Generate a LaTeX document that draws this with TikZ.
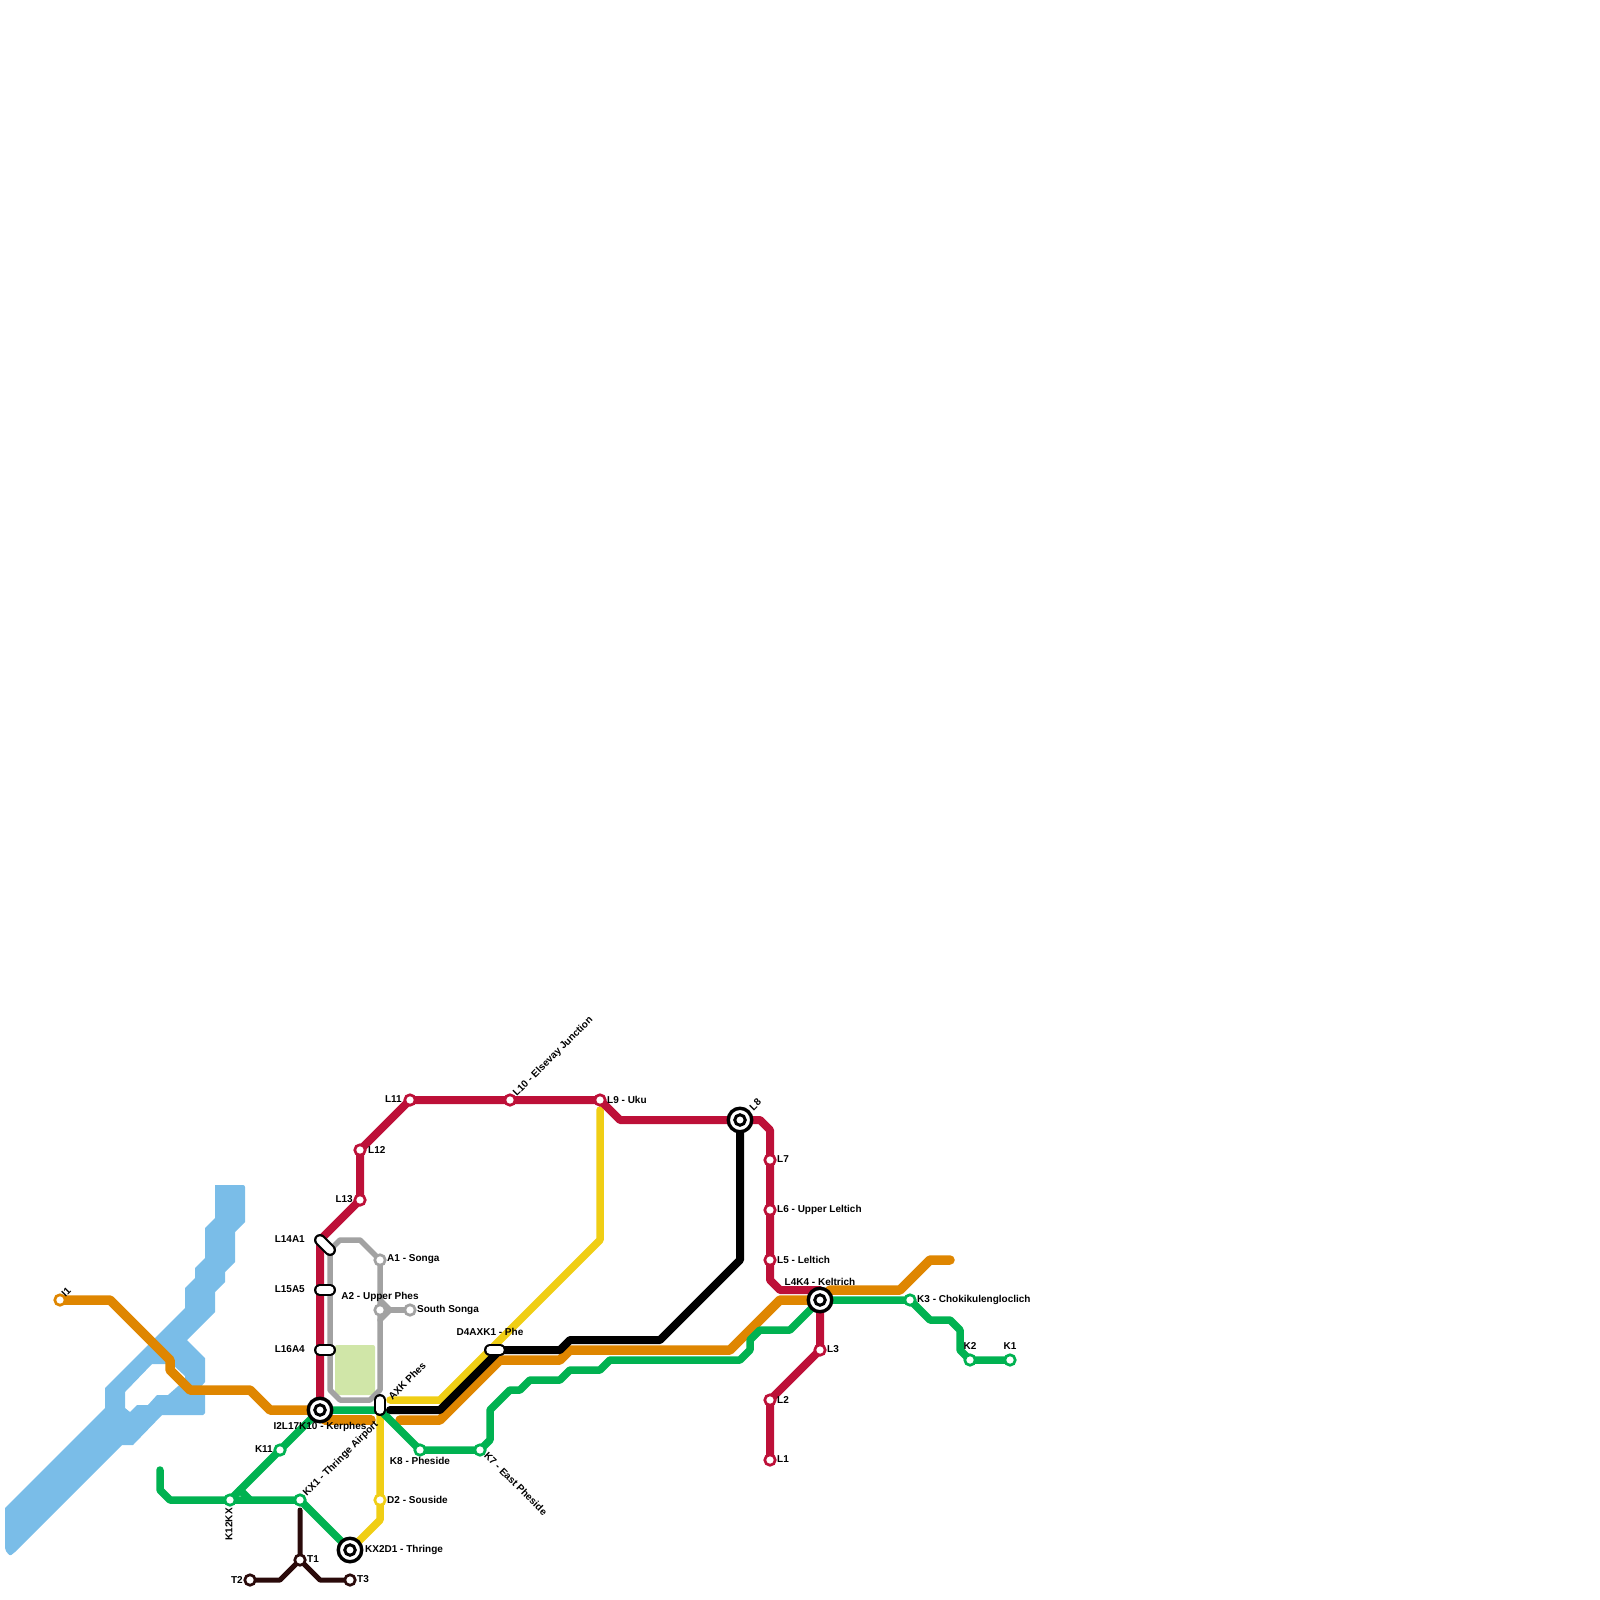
\documentclass[tikz,border=0pt]{standalone}
\usepackage{fontspec}
\setmainfont{Liberation Sans}
\usetikzlibrary{calc}
\definecolor{cwater}{HTML}{7ABDE8}
\definecolor{cpark}{HTML}{D0E6A8}
\definecolor{cred}{HTML}{BD1038}
\definecolor{corange}{HTML}{DF8600}
\definecolor{cgreen}{HTML}{00B251}
\definecolor{cyellow}{HTML}{F0CE15}
\definecolor{cgray}{HTML}{A2A2A2}
\definecolor{cdark}{HTML}{2A0A0A}
\tikzset{
 route/.style={line width=#1,line join=round,line cap=round},
 redline/.style={route=8pt,draw=cred},
 orangeline/.style={route=9.5pt,draw=corange},
 greenline/.style={route=7.5pt,draw=cgreen},
 yellowline/.style={route=7.5pt,draw=cyellow},
 blackline/.style={route=8pt,draw=black},
 grayline/.style={route=5.5pt,draw=cgray},
 darkline/.style={route=5pt,draw=cdark},
 stop/.style={circle,draw=#1,fill=white,line width=2.7pt,minimum size=10.5pt,inner sep=0pt},
 txt/.style={font=\fontsize{10}{12}\selectfont\bfseries,inner sep=0pt,text=black},
 lbl/.style={txt,anchor=west},
 lbr/.style={txt,anchor=east},
 lbc/.style={txt,anchor=center},
}
\newcommand{\pillshape}[3]{%
 \draw[line width=12pt,line cap=round,draw=black] (#1) -- (#2);
 \draw[line width=7.5pt,line cap=round,draw=white] (#1) -- (#2);
 \coordinate (#3) at ($(#1)!.5!(#2)$);}
\newcommand{\roundel}[2]{%
 \node[circle,fill=white,draw=black,line width=3.4pt,minimum size=23.5pt,inner sep=0pt] (#2) at (#1) {};
 \node[circle,fill=white,draw=black,line width=3pt,minimum size=10.5pt,inner sep=0pt] (#2in) at (#1) {};}
\begin{document}
\begin{tikzpicture}[x=1pt,y=-1pt]
\useasboundingbox (0,0) rectangle (1600,1600);
% water
\fill[cwater,even odd rule]
 [rounded corners=2pt] (215,1185)--(245,1185) [sharp corners] --(245,1222)--(235,1232)--(235,1262)--(225,1272)--(225,1282)--(215,1292)--(215,1312)--(187,1340)--(205,1358)--(205,1382)--(194,1395)--(205,1395)--(205,1413)--(203,1415)--(162,1415)--(133,1445)--(122,1445)--(15,1552) [rounded corners=2pt] --(10,1556)--(5,1550) [sharp corners] --(5,1508)--(105,1408)--(105,1388)--(185,1308)--(185,1288)--(195,1278)--(195,1268)--(205,1258)--(205,1228)--(215,1218)--cycle
 (125,1392)--(152,1364)--(172,1364)--(185,1376)--(185,1380)--(168,1395)--(157,1395)--(148,1405)--(137,1405)--(130,1412)--(125,1408)--cycle;
\fill[cpark,rounded corners=2pt] (335,1345) rectangle (375,1395);
% station positions
\foreach \n/\x/\y in {I1/60/1300,LL/410/1100,LT/510/1100,LN/600/1100,LE/740/1120,LS/770/1160,LX/770/1210,LV/770/1260,LF/820/1300,LC/820/1350,LB/770/1400,LA/770/1460,LTW/360/1150,LTH/360/1200,
 PA/320/1240,PB/330/1250,PC/320/1290,PD/330/1290,PE/320/1350,PF/330/1350,PG/380/1400,PH/380/1410,PI/490/1350,PJ/500/1350,
 IT/320/1410,AO/380/1260,AT/380/1310,SS/410/1310,KE/420/1450,KS/480/1450,KL/280/1450,KW/230/1500,KXO/300/1500,KXT/350/1550,DT/380/1500,TO/300/1560,TB/250/1580,TC/350/1580,KC/910/1300,KB/970/1360,KA/1010/1360,
 YT/600/1110,OE/950/1260,GE/160/1470}
  \coordinate (\n) at (\x,\y);
% lines
\draw[darkline] (300,1510) -- (TO) -- (280,1580) -- (TB);
\draw[darkline] (TO) -- (320,1580) -- (TC);
\draw[yellowline] (YT) -- (600,1240) -- (440,1400) -- (390,1400);
\draw[yellowline] (380,1415) -- (DT) -- (380,1520) -- (KXT);
\draw[orangeline] (I1) -- (110,1300) -- (170,1360) -- (170,1370) -- (190,1390) -- (250,1390) -- (270,1410) -- (IT);
\draw[orangeline] (325,1420) -- (371,1420);
\draw[orangeline] (400,1420) -- (440,1420) -- (500,1360) -- (560,1360) -- (570,1350) -- (730,1350) -- (780,1300) -- (LF) -- (830,1290) -- (900,1290) -- (930,1260) -- (OE);
\draw[grayline] (PB) -- (340,1240) -- (360,1240) -- (AO) -- (380,1390) -- (370,1400) -- (340,1400) -- (330,1390) -- cycle;
\draw[grayline] (AT) -- (SS);
\draw[grayline] (380,1300) -- (390,1310) -- (380,1320);
\draw[greenline] (GE) -- (160,1490) -- (170,1500) -- (KW) -- (KXO) -- (KXT);
\draw[greenline] (KW) -- (KL) -- (IT) -- (PH) -- (KE) -- (KS) -- (490,1440) -- (490,1410) -- (510,1390) -- (520,1390) -- (530,1380) -- (560,1380) -- (570,1370) -- (600,1370) -- (610,1360) -- (740,1360) -- (750,1350) -- (750,1340) -- (760,1330) -- (790,1330) -- (LF) -- (KC) -- (930,1320) -- (950,1320) -- (960,1330) -- (960,1350) -- (KB) -- (KA);
\draw[greenline] (240,1490) -- (250,1500);
\draw[blackline] (390,1410) -- (440,1410) -- (PJ) -- (560,1350) -- (570,1340) -- (660,1340) -- (740,1260) -- (LE);
\draw[redline] (LA) -- (LB) -- (LC) -- (LF) -- (820,1290) -- (780,1290) -- (770,1280) -- (LV) -- (LX) -- (LS) -- (770,1130) -- (760,1120) -- (LE) -- (620,1120) -- (LN) -- (LT) -- (LL) -- (LTW) -- (LTH) -- (PA) -- (PC) -- (PE) -- (IT);
% interchanges
\pillshape{PA}{PB}{PAB}
\pillshape{PC}{PD}{PCD}
\pillshape{PE}{PF}{PEF}
\pillshape{PG}{PH}{PGH}
\pillshape{PI}{PJ}{PIJ}
\roundel{IT}{rIT}
\roundel{LE}{rLE}
\roundel{LF}{rLF}
\roundel{KXT}{rKXT}
% stops
\foreach \n/\c in {I1/corange,LL/cred,LT/cred,LN/cred,LS/cred,LX/cred,LV/cred,LC/cred,LB/cred,LA/cred,LTW/cred,LTH/cred,AO/cgray,AT/cgray,SS/cgray,KE/cgreen,KS/cgreen,KL/cgreen,KW/cgreen,KXO/cgreen,DT/cyellow,TO/cdark,TB/cdark,TC/cdark,KC/cgreen,KB/cgreen,KA/cgreen}
  \node[stop=\c] (s\n) at (\n) {};
% labels
\node[lbl,rotate=45] (tI1) at (63,1295) {I1};
\node[lbr] (tLL) at (402,1099.5) {L11};
\node[lbl,rotate=45] (tLT) at (515,1095) {L10 - Elsevay Junction};
\node[lbl] (tLN) at (607,1099.5) {L9 - Uku};
\node[lbl,rotate=45] (tLE) at (751,1109) {L8};
\node[lbl] (tLS) at (777,1159.5) {L7};
\node[lbl] (tLX) at (777,1210) {L6 - Upper Leltich};
\node[lbl] (tLV) at (777,1259.5) {L5 - Leltich};
\node[lbc] (tLF) at (820,1281.5) {L4K4 - Keltrich};
\node[lbl] (tLC) at (827,1349.5) {L3};
\node[lbl] (tLB) at (777,1399.5) {L2};
\node[lbl] (tLA) at (777,1459.5) {L1};
\node[lbl] (tLTW) at (368,1149.5) {L12};
\node[lbr] (tLTH) at (353,1199.5) {L13};
\node[lbr] (tPAB) at (305,1239.5) {L14A1};
\node[lbr] (tPCD) at (305,1289.5) {L15A5};
\node[lbr] (tPEF) at (305,1349.5) {L16A4};
\node[lbc] (tIT) at (320,1427) {I2L17K10 - Kerphes};
\node[lbl] (tAO) at (387,1259.5) {A1 - Songa};
\node[lbc] (tAT) at (380,1297) {A2 - Upper Phes};
\node[lbl] (tSS) at (417,1310) {South Songa};
\node[lbc] (tPIJ) at (490,1332) {D4AXK1 - Phe};
\node[lbl,rotate=45] (tPGH) at (390,1398) {AXK Phes};
\node[lbc] (tKE) at (420,1461) {K8 - Pheside};
\node[lbl,rotate=-45] (tKS) at (486,1454) {K7 - East Pheside};
\node[lbr] (tKL) at (273,1449.5) {K11};
\node[lbr,rotate=90] (tKW) at (229,1508) {K12KX};
\node[lbl,rotate=45] (tKXO) at (305,1495) {KX1 - Thringe Airport};
\node[lbl] (tDT) at (387,1499.5) {D2 - Souside};
\node[lbl] (tKXT) at (365,1550) {KX2D1 - Thringe};
\node[lbl] (tTO) at (307,1559.5) {T1};
\node[lbr] (tTB) at (243,1579.5) {T2};
\node[lbl] (tTC) at (357,1579.5) {T3};
\node[lbl] (tKC) at (917,1299.5) {K3 - Chokikulengloclich};
\node[lbc] (tKB) at (970,1346) {K2};
\node[lbc] (tKA) at (1010,1346) {K1};
\end{tikzpicture}
\end{document}
